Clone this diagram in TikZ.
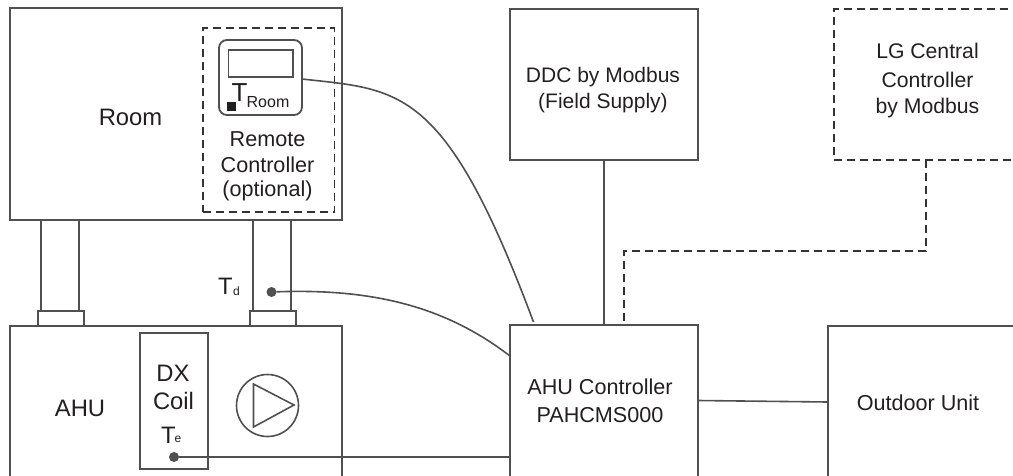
\documentclass[tikz,border=0pt]{standalone}
\usepackage{fontspec}
\setmainfont{Liberation Sans}
\definecolor{ln}{HTML}{505050}
\definecolor{dl}{HTML}{333333}
\definecolor{tx}{HTML}{231F20}
\tikzset{
 box/.style={draw=ln,line width=1.8pt,fill=white,rectangle,inner sep=0pt,outer sep=0pt},
 dbox/.style={draw=dl,line width=1.5pt,dash pattern=on 8pt off 5pt,rectangle,inner sep=0pt,outer sep=0pt},
 wire/.style={draw=ln,line width=1.6pt},
 dwire/.style={draw=dl,line width=1.5pt,dash pattern=on 8pt off 5pt},
 lbl/.style={text=tx,font=\fontsize{21.6}{25}\selectfont,align=center,inner sep=0pt},
 lblb/.style={text=tx,font=\fontsize{23.8}{26}\selectfont,align=center,inner sep=0pt},
 dot/.style={circle,fill=ln,minimum size=10pt,inner sep=0pt,outer sep=0pt}
}
\begin{document}
\begin{tikzpicture}[x=1pt,y=-1pt]
\useasboundingbox (0,0) rectangle (1013,475);
\clip (0,0) rectangle (1013,475);
% ducts and flanges
\node[box,minimum width=38pt,minimum height=95pt] (ductl) at (60,265.5) {};
\node[box,minimum width=38pt,minimum height=95pt] (ductr) at (272,265.5) {};
\node[box,minimum width=46pt,minimum height=15pt] (flangel) at (61,318.5) {};
\node[box,minimum width=46pt,minimum height=15pt] (flanger) at (273,318.5) {};
% main boxes
\node[box,minimum width=332pt,minimum height=212pt] (room) at (176,114) {};
\node[box,minimum width=332pt,minimum height=174pt] (ahu) at (176,413) {};
\node[box,minimum width=188pt,minimum height=151pt] (ddc) at (604,84.5) {};
\node[box,minimum width=188pt,minimum height=175pt] (ctrl) at (604,412.5) {};
\node[box,minimum width=200pt,minimum height=174pt] (outdoor) at (928,413) {};
\node[dbox,minimum width=200pt,minimum height=151pt] (lg) at (934,84.5) {};
% remote controller
\node[dbox,minimum width=131.5pt,minimum height=184pt] (rcbox) at (268.75,120) {};
\node[box,rounded corners=8pt,minimum width=83pt,minimum height=75pt] (rc) at (260.5,77.5) {};
\node[box,minimum width=64.5pt,minimum height=27pt] (disp) at (260.75,63.5) {};
\node[rectangle,fill=tx,minimum size=9pt,inner sep=0pt] (sensor) at (231.5,106.5) {};
\node[text=tx,inner sep=0pt,font=\fontsize{26}{26}\selectfont] (troom) at (239.5,93) {T};
\node[text=tx,inner sep=0pt,font=\fontsize{16}{16}\selectfont] (troomsub) at (268,102) {Room};
% coil and fan
\node[box,minimum width=68pt,minimum height=136pt] (coil) at (174,401) {};
\node[circle,draw=ln,line width=1.6pt,minimum size=62pt,inner sep=0pt] (fan) at (267.5,405.5) {};
\draw[ln,line width=1.6pt,line join=miter] (253.5,384) -- (294,405) -- (253.5,427) -- cycle;
% labels
\node[lblb] (lroom) at (130.5,117) {Room};
\node[lbl] (lrc1) at (267.5,139) {Remote};
\node[lbl] (lrc2) at (267.5,164.5) {Controller};
\node[lbl] (lrc3) at (267.5,190.5) {(optional)};
\node[lblb] (lahu) at (80,408) {AHU};
\node[lblb] (ldx) at (173,373) {DX};
\node[lblb] (lcoil) at (173.5,401) {Coil};
\node[lblb] (lte) at (168.5,435) {T};
\node[text=tx,inner sep=0pt,font=\fontsize{12}{12}\selectfont] (ltes) at (178,439.5) {e};
\node[lblb] (ltd) at (225.5,286.5) {T};
\node[text=tx,inner sep=0pt,font=\fontsize{12}{12}\selectfont] (ltds) at (236.5,291) {d};
\node[lbl,font=\fontsize{21}{25}\selectfont] (lddc1) at (603,77) {DDC by Modbus};
\node[lbl,font=\fontsize{21}{25}\selectfont] (lddc2) at (603,103) {(Field Supply)};
\node[lbl,font=\fontsize{21.2}{25}\selectfont] (llg1) at (927.5,51) {LG Central};
\node[lbl,font=\fontsize{21.2}{25}\selectfont] (llg2) at (927.5,80) {Controller};
\node[lbl,font=\fontsize{21.2}{25}\selectfont] (llg3) at (927.5,108.5) {by Modbus};
\node[lbl] (lc1) at (600,387) {AHU Controller};
\node[lbl] (lc2) at (600,415) {PAHCMS000};
\node[lbl] (lo) at (918,403) {Outdoor Unit};
% dots and free ends
\node[dot] (td) at (271.5,292) {};
\node[dot] (te) at (174,457) {};
\coordinate (rcend) at (533.5,322);
\coordinate (tdend) at (510,356);
\coordinate (teend) at (510,457);
\coordinate (dashA) at (926,160);
\coordinate (dashB) at (926,251);
\coordinate (dashC) at (624,251);
\coordinate (dashD) at (624,325);
\coordinate (rcout) at (302,79);
\coordinate (ctrlw) at (698,400.5);
\coordinate (outw) at (828,402);
% connectors
\draw[wire] (rcout) .. controls (400,90) and (445,85) .. (rcend);
\draw[wire] (td) .. controls (380,288) and (450,310) .. (tdend);
\draw[wire] (te) -- (teend);
\draw[wire] (ddc.south) -- (ctrl.north);
\draw[wire] (ctrlw) -- (outw);
\draw[dwire] (dashA) -- (dashB) -- (dashC) -- (dashD);
\end{tikzpicture}
\end{document}
